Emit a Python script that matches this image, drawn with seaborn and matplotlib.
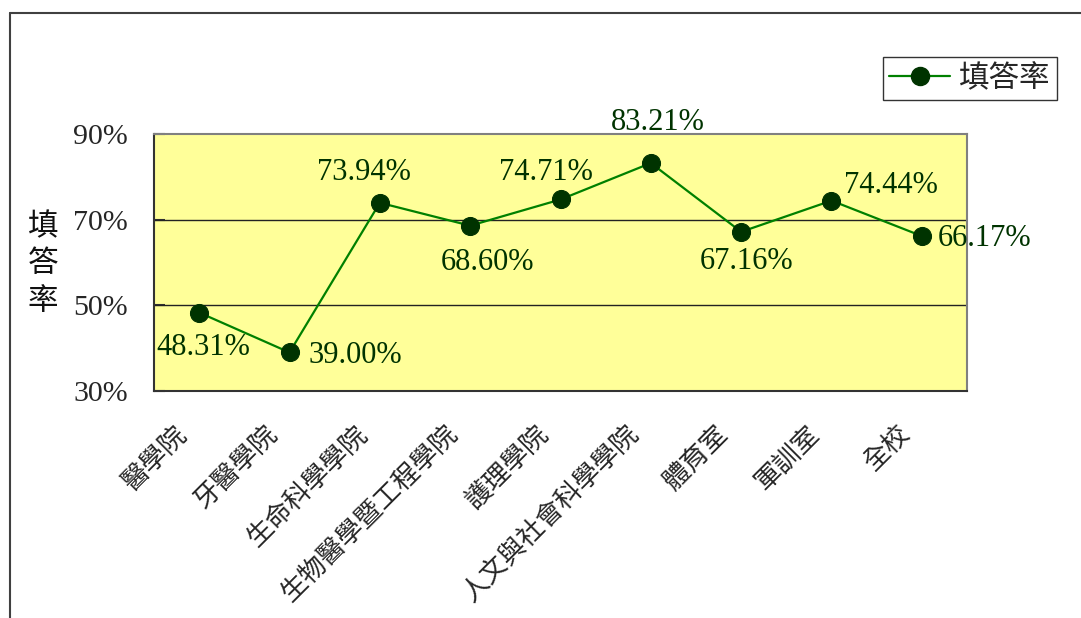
import matplotlib
matplotlib.use("Agg")
import matplotlib.pyplot as plt
import seaborn as sns
import pandas as pd
from matplotlib.lines import Line2D
from matplotlib.transforms import ScaledTranslation

categories = ["醫學院", "牙醫學院", "生命科學學院", "生物醫學暨工程學院", "護理學院",
              "人文與社會科學學院", "體育室", "軍訓室", "全校"]
values = [48.31, 39.00, 73.94, 68.60, 74.71, 83.21, 67.16, 74.44, 66.17]
value_labels = ["48.31%", "39.00%", "73.94%", "68.60%", "74.71%", "83.21%", "67.16%", "74.44%", "66.17%"]
label_offsets_px = [(4, -35), (66, -3), (-16, 30), (17, -37), (-15, 27), (7, 41), (5, -30), (59, 15), (63, -2)]
y_ticks = [30, 50, 70, 90]
y_tick_labels = ["30%", "50%", "70%", "90%"]
series_name = "填答率"

sns.set_style("white")
CJK = ["Noto Sans CJK TC", "DejaVu Sans"]
SERIF = ["Liberation Serif", "DejaVu Serif"]
plt.rcParams["font.family"] = CJK

fig = plt.figure(figsize=(10.81, 6.18), dpi=100)
ax = fig.add_axes([154/1081, 1-391/618, (967-154)/1081, (391-134)/618])
ax.set_facecolor("#FFFF99")

df = pd.DataFrame({"cat": categories, "val": values})
x_idx = list(range(len(categories)))
df["x"] = x_idx
sns.lineplot(data=df, x="x", y="val", sort=False, ax=ax, color="#008000", linewidth=1.6,
             marker="o", markersize=13, markerfacecolor="#003300", markeredgecolor="#003300",
             label=series_name, legend=False, zorder=5)

ax.set_xlim(-0.5, len(categories) - 0.5)
ax.set_ylim(30, 90)
ax.set_yticks(y_ticks)
ax.set_yticklabels(y_tick_labels, fontfamily=SERIF, fontsize=21.5)
ax.set_xticks(x_idx)
ax.set_xticklabels(categories, rotation=45, ha="right", va="center", rotation_mode="anchor",
                   fontsize=19, fontfamily=CJK)
ax.set_xticks([i + 0.5 for i in range(len(categories) - 1)], minor=True)
ax.tick_params(axis="x", which="major", length=0, pad=28)
ax.tick_params(axis="x", which="minor", direction="in", length=8, color="#333333", width=1)
ax.tick_params(axis="y", direction="in", length=8, color="#333333", width=1.5, pad=19, left=True)
for lab in ax.get_xticklabels():
    lab.set_transform(lab.get_transform() + ScaledTranslation(-16/100, 0, fig.dpi_scale_trans))
ax.set_xlabel("")
ax.set_ylabel("")

for yv in [50, 70]:
    ax.axhline(yv, color="#222222", linewidth=1, zorder=1)

for side in ["left", "bottom"]:
    ax.spines[side].set_color("#333333")
    ax.spines[side].set_linewidth(1.5)
for side in ["top", "right"]:
    ax.spines[side].set_color("#808080")
    ax.spines[side].set_linewidth(1.5)

for i, (v, t, off) in enumerate(zip(values, value_labels, label_offsets_px)):
    ax.annotate(t, (i, v), xytext=off, textcoords="offset pixels", ha="center", va="center",
                fontsize=22, fontfamily=SERIF, color="#003300", zorder=6, annotation_clip=False)

fig.text(43/1081, 1-264/618, "填\n答\n率", ha="center", va="center", fontsize=22,
         linespacing=1.25, fontfamily=CJK, fontweight="medium", color="#111111")

handle = Line2D([], [], color="#008000", linewidth=1.6, marker="o", markersize=13,
                markerfacecolor="#003300", markeredgecolor="#003300")
leg = fig.legend([handle], [series_name], loc="upper right",
                 bbox_to_anchor=(1057/1081, 1-57/618), borderaxespad=0,
                 fancybox=False, frameon=True, handlelength=2.0,
                 handletextpad=0.3, borderpad=0.2,
                 prop={"family": CJK, "size": 22, "weight": "medium"})
leg.get_frame().set_edgecolor("#000000")
leg.get_frame().set_linewidth(1)

fig.add_artist(Line2D([10/1081, 1.0], [1-13/618, 1-13/618], color="#404040", linewidth=1.5))
fig.add_artist(Line2D([10/1081, 10/1081], [0, 1-13/618], color="#404040", linewidth=1.5))

fig.savefig("out.png", dpi=100)
